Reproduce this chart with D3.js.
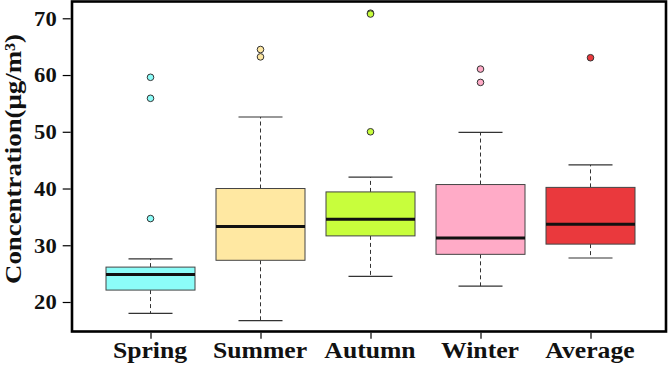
<!DOCTYPE html>
<html><head><meta charset="utf-8">
<script src="https://cdn.jsdelivr.net/npm/d3@7"></script>
<style>html,body{margin:0;padding:0;background:#fff;}svg{display:block;}</style>
</head><body>
<svg id="c" width="669" height="365"></svg>
<script>
const categories = ["Spring", "Summer", "Autumn", "Winter", "Average"];
const q1 = [22.1, 27.35, 31.65, 28.4, 30.2];
const medians = [24.85, 33.3, 34.6, 31.3, 33.7];
const q3 = [26.15, 40.0, 39.4, 40.7, 40.2];
const whiskerLow = [18.0, 16.7, 24.5, 22.8, 27.75];
const whiskerHigh = [27.6, 52.6, 42.0, 49.9, 44.15];
const outliers = [[59.6, 55.9, 34.7], [64.5, 63.2], [70.9, 70.75, 50.0], [61.05, 58.7], [63.05]];
const fills = ["#8cfdf9", "#ffe8a2", "#c8fe3c", "#ffabc7", "#ea393d"];
const yTicks = [20, 30, 40, 50, 60, 70];
const yTitle = "Concentration(μg/m³)";

const svg = d3.select("#c");
const L = 72, R = 666, T = 1.5, B = 331.5;
const y = d3.scaleLinear().domain([14.8, 72.96]).range([B, T]);
const x = d3.scalePoint().domain(categories).range([150.5, 590.5]);
const boxW = 89, capW = 44;
const serif = "Liberation Serif, Times New Roman, serif";

const g = svg.append("g");
categories.forEach((c, i) => {
  const cx = x(c);
  g.append("line").attr("x1", cx).attr("x2", cx).attr("y1", y(q3[i])).attr("y2", y(whiskerHigh[i]))
    .attr("stroke", "#333").attr("stroke-width", 1).attr("stroke-dasharray", "4,3");
  g.append("line").attr("x1", cx).attr("x2", cx).attr("y1", y(q1[i])).attr("y2", y(whiskerLow[i]))
    .attr("stroke", "#333").attr("stroke-width", 1).attr("stroke-dasharray", "4,3");
  [whiskerHigh[i], whiskerLow[i]].forEach(v => {
    g.append("line").attr("x1", cx - capW/2).attr("x2", cx + capW/2).attr("y1", y(v)).attr("y2", y(v))
      .attr("stroke", "#333").attr("stroke-width", 1.2);
  });
  g.append("rect").attr("x", cx - boxW/2).attr("width", boxW)
    .attr("y", y(q3[i])).attr("height", y(q1[i]) - y(q3[i]))
    .attr("fill", fills[i]).attr("stroke", "#444").attr("stroke-width", 1);
  g.append("line").attr("x1", cx - boxW/2).attr("x2", cx + boxW/2).attr("y1", y(medians[i])).attr("y2", y(medians[i]))
    .attr("stroke", "#111").attr("stroke-width", 3);
  outliers[i].forEach(v => {
    g.append("circle").attr("cx", cx).attr("cy", y(v)).attr("r", 3.3)
      .attr("fill", fills[i]).attr("stroke", "#333").attr("stroke-width", 1);
  });
});

svg.append("rect").attr("x", L).attr("y", T).attr("width", R - L).attr("height", B - T)
  .attr("fill", "none").attr("stroke", "#000").attr("stroke-width", 2.6);

const yAxis = d3.axisLeft(y).tickValues(yTicks).tickSize(8).tickPadding(4).tickFormat(d3.format("d"));
const ya = svg.append("g").attr("transform", `translate(${L - 1.3},0)`).call(yAxis);
ya.select(".domain").remove();
ya.selectAll(".tick line").attr("stroke", "#000").attr("stroke-width", 1.2);
ya.selectAll(".tick text").attr("font-family", serif)
  .attr("font-weight", "bold").attr("font-size", "20px").attr("fill", "#111")
  .attr("dy", "0.34em").attr("x", 0)
  .attr("transform", "translate(-14,0) scale(1.13,1)");

const xAxis = d3.axisBottom(x).tickSize(6).tickPadding(5);
const xa = svg.append("g").attr("transform", `translate(0,${B + 1.3})`).call(xAxis);
xa.select(".domain").remove();
xa.selectAll(".tick line").attr("stroke", "#000").attr("stroke-width", 1.2);
xa.selectAll(".tick text").attr("font-family", serif)
  .attr("font-weight", "bold").attr("font-size", "24px").attr("fill", "#111")
  .attr("dy", "0").attr("y", 0)
  .attr("transform", "translate(-1,25) scale(1.07,1)");

svg.append("text").attr("transform", "translate(21,159) rotate(-90)")
  .attr("text-anchor", "middle")
  .attr("font-family", serif)
  .attr("font-weight", "bold").attr("font-size", "23px").attr("fill", "#111")
  .attr("textLength", 250).attr("lengthAdjust", "spacingAndGlyphs")
  .text(yTitle);
</script>
</body></html>
